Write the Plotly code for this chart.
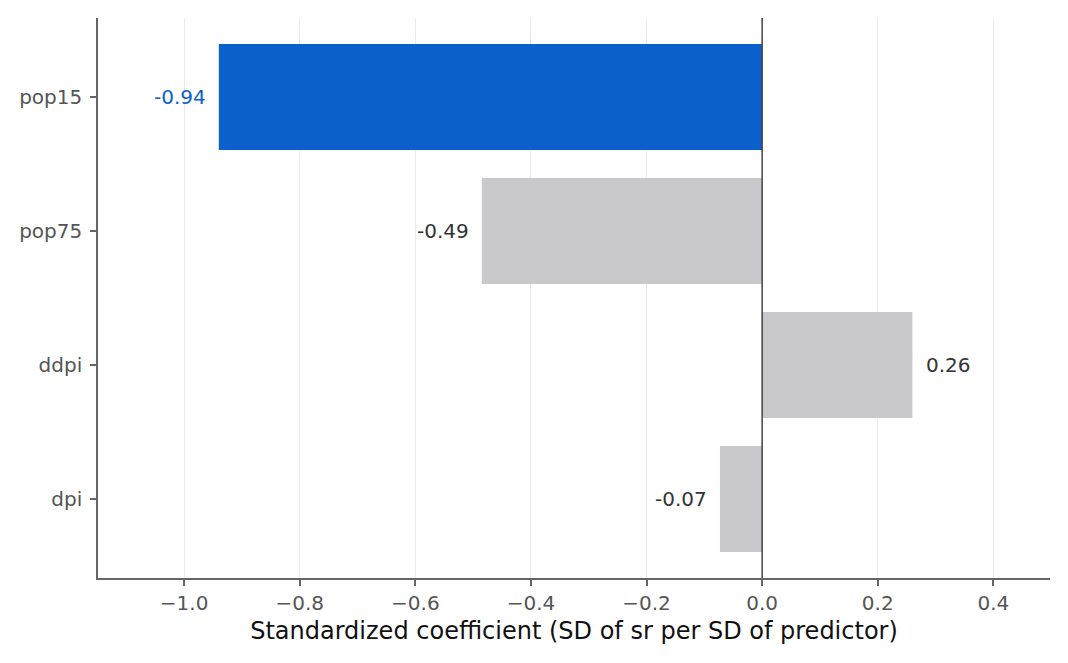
import plotly.graph_objects as go

predictors = ["pop15", "pop75", "ddpi", "dpi"]
coefs = [-0.94, -0.485, 0.26, -0.073]
labels = ["-0.94", "-0.49", "0.26", "-0.07"]
highlight = "pop15"

blue = "#0b60cc"
grey = "#c9c8cd"
colors = [blue if p == highlight else grey for p in predictors]

fig = go.Figure()
fig.add_trace(go.Bar(
    x=coefs, y=predictors, orientation="h",
    marker=dict(color=colors, line=dict(width=0)),
    width=0.79, hoverinfo="skip",
))

for p, v, t in zip(predictors, coefs, labels):
    fig.add_annotation(
        x=v, y=p, text=t, showarrow=False,
        xanchor="right" if v < 0 else "left",
        xshift=-11 if v < 0 else 12,
        font=dict(family="DejaVu Sans", size=20,
                  color=blue if p == highlight else "#333333"),
    )

fig.add_vline(x=0, line=dict(color="#444444", width=1.5))

fig.update_layout(
    width=1068, height=663,
    margin=dict(l=98, r=18, t=18, b=85),
    plot_bgcolor="white", paper_bgcolor="white",
    showlegend=False,
    font=dict(family="DejaVu Sans", size=20, color="#555555"),
    xaxis=dict(
        range=[-1.149, 0.498],
        tickvals=[-1.0, -0.8, -0.6, -0.4, -0.2, 0.0, 0.2, 0.4],
        ticktext=["\u22121.0", "\u22120.8", "\u22120.6", "\u22120.4", "\u22120.2", "0.0", "0.2", "0.4"],
        showgrid=True, gridcolor="#ebebeb", gridwidth=1,
        zeroline=False,
        showline=True, linecolor="#666666", linewidth=1.5,
        ticks="outside", ticklen=6, tickcolor="#666666", tickwidth=1.5,
        tickfont=dict(size=20, color="#555555"),
        title=dict(text="Standardized coefficient (SD of sr per SD of predictor)",
                   font=dict(size=24, color="#111111"), standoff=8),
    ),
    yaxis=dict(
        categoryorder="array", categoryarray=predictors[::-1],
        range=[-0.59, 3.59],
        showgrid=False, zeroline=False,
        showline=True, linecolor="#666666", linewidth=1.5,
        ticks="outside", ticklen=6, tickcolor="#666666", tickwidth=1.5,
        ticklabelstandoff=4,
        tickfont=dict(size=20, color="#555555"),
    ),
)

fig.write_html("out.html")
